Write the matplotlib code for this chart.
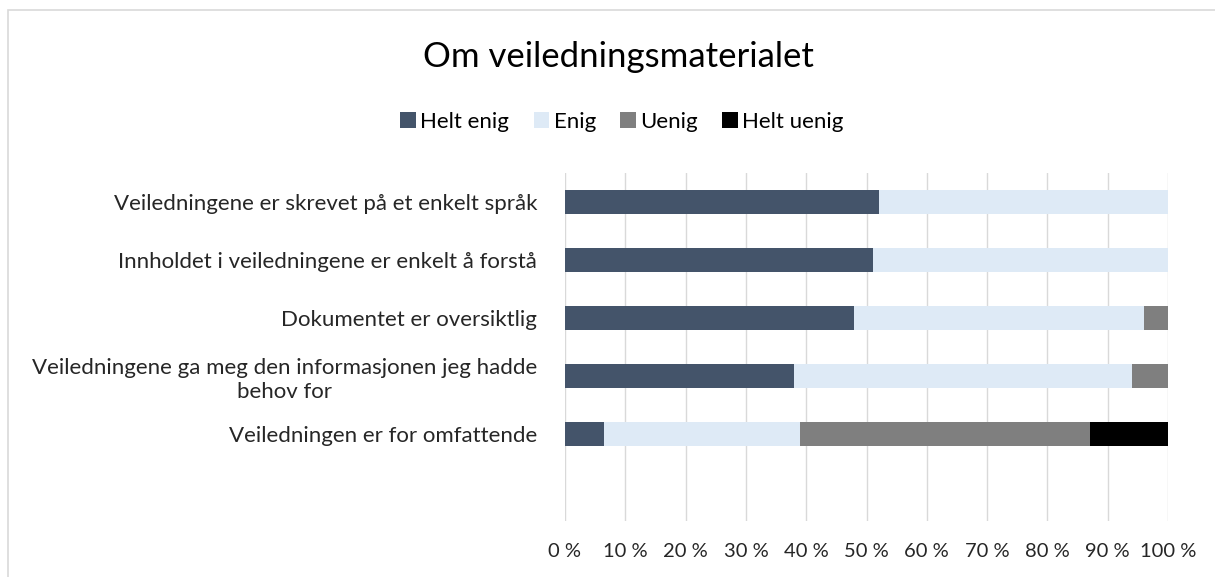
import matplotlib.pyplot as plt
from matplotlib.patches import Rectangle

categories = [
    "Veiledningene er skrevet på et enkelt språk",
    "Innholdet i veiledningene er enkelt å forstå",
    "Dokumentet er oversiktlig",
    "Veiledningene ga meg den informasjonen jeg hadde\nbehov for",
    "Veiledningen er for omfattende",
]
helt_enig = [52, 51, 48, 38, 6.5]
enig = [48, 49, 48, 56, 32.5]
uenig = [0, 0, 4, 6, 48]
helt_uenig = [0, 0, 0, 0, 13]

series = [
    ("Helt enig", helt_enig, "#44546a"),
    ("Enig", enig, "#deeaf6"),
    ("Uenig", uenig, "#7f7f7f"),
    ("Helt uenig", helt_uenig, "#000000"),
]
ticks = list(range(0, 101, 10))
tick_labels = [f"{t} %" for t in ticks]

plt.rcParams["font.family"] = ["Lato", "DejaVu Sans"]

fig = plt.figure(figsize=(12.15, 5.77), dpi=100)
W, H = 1215, 577
ax = fig.add_axes([565 / W, 1 - 521 / H, (1168 - 565) / W, (521 - 173) / H])

# chart border
fig.patches.append(Rectangle((8 / W, -0.1), 1.2, 1 - 10 / H + 0.1, transform=fig.transFigure,
                             fill=False, edgecolor="#d9d9d9", linewidth=1.2))

ypos = list(range(len(categories)))
left = [0] * len(categories)
for name, vals, col in series:
    ax.barh(ypos, vals, left=left, height=0.4, color=col, label=name, zorder=3)
    left = [a + b for a, b in zip(left, vals)]

ax.set_ylim(5.5, -0.5)
ax.set_xlim(0, 100)
ax.set_xticks(ticks)
ax.set_xticklabels(tick_labels, fontsize=14.5, color="#262626")
ax.set_yticks(ypos)
ax.set_yticklabels(categories, fontsize=16, color="#262626")
for t in ax.get_yticklabels():
    t.set_multialignment("center")
    t.set_linespacing(1.25)
ax.tick_params(axis="both", length=0)
ax.tick_params(axis="x", pad=16)
ax.tick_params(axis="y", pad=20)
ax.grid(axis="x", color="#d9d9d9", linewidth=1, zorder=0)
for s in ax.spines.values():
    s.set_visible(False)

fig.text(618 / W, 1 - 57 / H, "Om veiledningsmaterialet", ha="center", va="center",
         fontsize=25, color="#000000")
fig.legend(loc="center", bbox_to_anchor=(622 / W, 1 - 122 / H), ncol=4, frameon=False,
           fontsize=16, handlelength=0.7, handleheight=0.7, handletextpad=0.2,
           columnspacing=1.1)

fig.savefig("out.png", dpi=100)
